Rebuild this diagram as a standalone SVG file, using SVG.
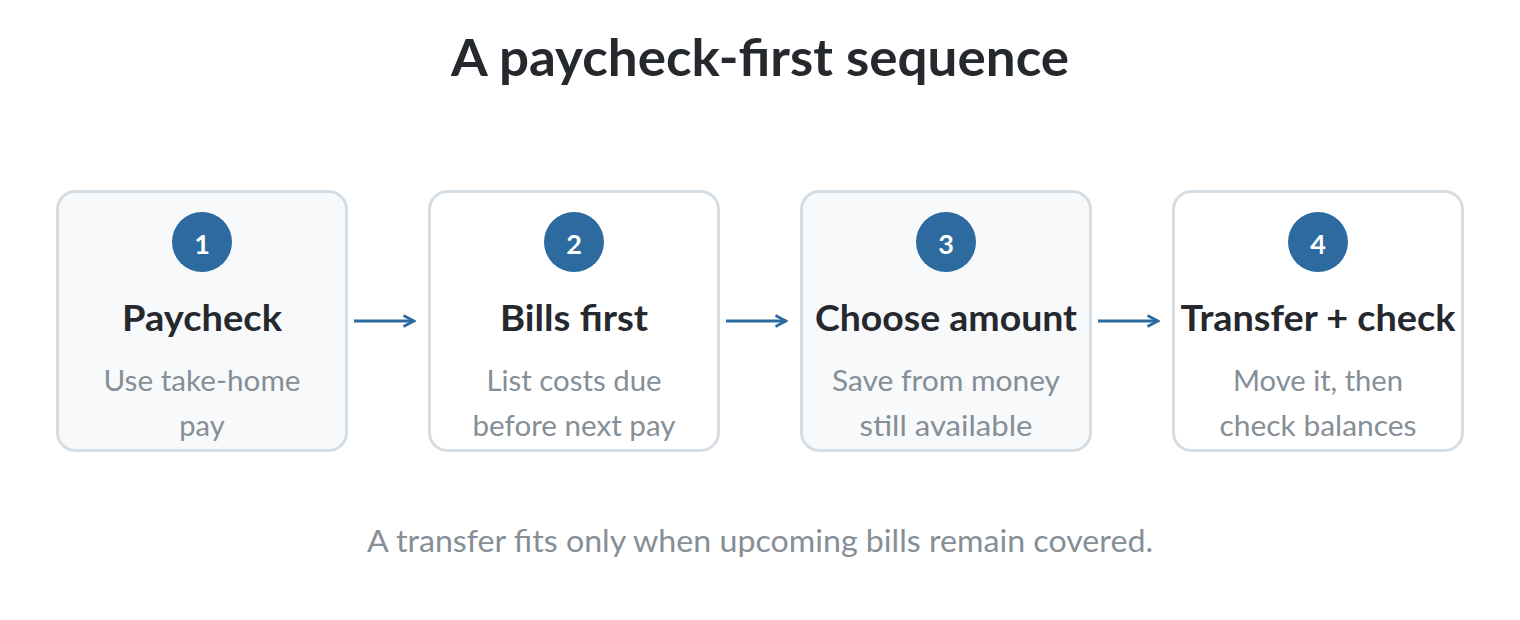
<svg xmlns="http://www.w3.org/2000/svg" width="1520" height="620" viewBox="0 0 1520 620">
<defs>
<style>
.bg{fill:#ffffff}
.card{stroke:#d4dce4;stroke-width:3}
.alt{fill:#f7f9fb}
.plain{fill:#ffffff}
.badge{fill:#2d6a9f}
.num{font-family:Lato,"Noto Sans",sans-serif;font-weight:700;font-size:27px;fill:#ffffff;text-anchor:middle}
.ttl{font-family:Lato,"Noto Sans",sans-serif;font-weight:700;font-size:36px;fill:#25282d;text-anchor:middle}
.sub{font-family:Lato,"Noto Sans",sans-serif;font-size:29px;fill:#868e96;text-anchor:middle}
.head{font-family:Lato,"Noto Sans",sans-serif;font-weight:700;font-size:52px;fill:#25282d;text-anchor:middle}
.foot{font-family:Lato,"Noto Sans",sans-serif;font-size:31px;fill:#868e96;text-anchor:middle}
.conn{stroke:#2d6a9f;stroke-width:3;fill:none}
</style>
<marker id="arr" viewBox="0 0 14 14" refX="12.5" refY="7" markerWidth="14" markerHeight="14" markerUnits="userSpaceOnUse" orient="auto">
<path d="M2,1.5 L12.5,7 L2,12.5" fill="none" stroke="#2d6a9f" stroke-width="2.6"/>
</marker>
</defs>
<rect class="bg" width="1520" height="620"/>
<text class="head" x="760" y="76" textLength="618" lengthAdjust="spacingAndGlyphs">A paycheck-first sequence</text>
<g id="node1">
<rect class="card alt" x="57.5" y="191.5" width="289" height="259" rx="18"/>
<circle class="badge" cx="202" cy="242" r="30"/>
<text class="num" x="202" y="254">1</text>
<text class="ttl" x="202" y="331" textLength="160" lengthAdjust="spacingAndGlyphs">Paycheck</text>
<text class="sub" x="202" y="391" textLength="197" lengthAdjust="spacingAndGlyphs">Use take-home</text>
<text class="sub" x="202" y="436">pay</text>
</g>
<g id="node2">
<rect class="card plain" x="429.5" y="191.5" width="289" height="259" rx="18"/>
<circle class="badge" cx="574" cy="242" r="30"/>
<text class="num" x="574" y="254">2</text>
<text class="ttl" x="574" y="331" textLength="148" lengthAdjust="spacingAndGlyphs">Bills first</text>
<text class="sub" x="574" y="391" textLength="175" lengthAdjust="spacingAndGlyphs">List costs due</text>
<text class="sub" x="574" y="436" textLength="203" lengthAdjust="spacingAndGlyphs">before next pay</text>
</g>
<g id="node3">
<rect class="card alt" x="801.5" y="191.5" width="289" height="259" rx="18"/>
<circle class="badge" cx="946" cy="242" r="30"/>
<text class="num" x="946" y="254">3</text>
<text class="ttl" x="946" y="331" textLength="262" lengthAdjust="spacingAndGlyphs">Choose amount</text>
<text class="sub" x="946" y="391" textLength="228" lengthAdjust="spacingAndGlyphs">Save from money</text>
<text class="sub" x="946" y="436" textLength="173" lengthAdjust="spacingAndGlyphs">still available</text>
</g>
<g id="node4">
<rect class="card plain" x="1173.5" y="191.5" width="289" height="259" rx="18"/>
<circle class="badge" cx="1318" cy="242" r="30"/>
<text class="num" x="1318" y="254">4</text>
<text class="ttl" x="1318" y="331" textLength="275" lengthAdjust="spacingAndGlyphs">Transfer + check</text>
<text class="sub" x="1318" y="391" textLength="170" lengthAdjust="spacingAndGlyphs">Move it, then</text>
<text class="sub" x="1318" y="436" textLength="197" lengthAdjust="spacingAndGlyphs">check balances</text>
</g>
<g id="connectors">
<line class="conn" x1="354" y1="321" x2="414" y2="321" marker-end="url(#arr)"/>
<line class="conn" x1="726" y1="321" x2="786" y2="321" marker-end="url(#arr)"/>
<line class="conn" x1="1098" y1="321" x2="1158" y2="321" marker-end="url(#arr)"/>
</g>
<text class="foot" x="760" y="552" textLength="786" lengthAdjust="spacingAndGlyphs">A transfer fits only when upcoming bills remain covered.</text>
</svg>
